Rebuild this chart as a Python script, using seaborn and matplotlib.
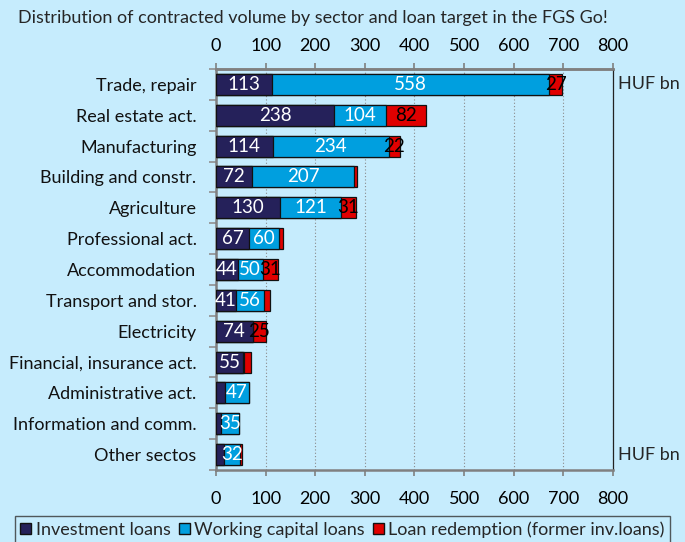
import numpy as np
import pandas as pd
import matplotlib
matplotlib.use("Agg")
import matplotlib.pyplot as plt
import seaborn as sns
from matplotlib.patches import Patch

sectors = ["Trade, repair", "Real estate act.", "Manufacturing", "Building and constr.",
           "Agriculture", "Professional act.", "Accommodation", "Transport and stor.",
           "Electricity", "Financial, insurance act.", "Administrative act.",
           "Information and comm.", "Other sectos"]
investment = [113, 238, 114, 72, 130, 67, 44, 41, 74, 55, 19, 11, 17]
working_cap = [558, 104, 234, 207, 121, 60, 50, 56, 1, 2, 47, 35, 32]
redemption = [27, 82, 22, 6, 31, 9, 31, 12, 25, 14, 1, 1, 4]
x_ticks = [0, 100, 200, 300, 400, 500, 600, 700, 800]

bg = "#C6ECFD"
navy = "#25215A"
blue = "#009FDF"
red = "#E00000"

sns.set_theme(style="white")
plt.rcParams["font.family"] = ["Lato", "DejaVu Sans"]

df = pd.DataFrame({"sector": sectors, "inv": investment, "wc": working_cap, "red": redemption})
df["c1"] = df["inv"]
df["c2"] = df["inv"] + df["wc"]
df["c3"] = df["c2"] + df["red"]

fig = plt.figure(figsize=(6.85, 5.42), dpi=100, facecolor=bg)
ax = fig.add_axes([0.3153, 0.1328, 0.5796, 0.7399])
ax.set_facecolor(bg)

# stacked bars by overplotting cumulative totals
for col, c in [("c3", red), ("c2", blue), ("c1", navy)]:
    sns.barplot(data=df, x=col, y="sector", color=c, width=0.68, orient="h",
                edgecolor="#111111", linewidth=0.9, saturation=1, ax=ax, zorder=3)

# segment labels
for i, row in df.iterrows():
    segs = [(0, row["inv"], "white"), (row["c1"], row["wc"], "white"), (row["c2"], row["red"], "black")]
    for start, val, tc in segs:
        if val >= 20:
            ax.text(start + val / 2, i, str(val), ha="center", va="center",
                    color=tc, fontsize=13.5, zorder=5)

ax.set_xlim(0, 800)
ax.set_ylim(12.5, -0.5)
ax.set_xticks(x_ticks)
ax.set_xlabel("")
ax.set_ylabel("")
ax.grid(axis="x", color="#8a8a8a", linestyle=(0, (1, 2)), linewidth=0.8, zorder=0)
ax.set_axisbelow(True)

ax.tick_params(axis="x", top=False, labeltop=False, bottom=True, labelbottom=True,
               length=4, width=1.2, color="#808080", pad=11, labelsize=13, labelcolor="black")
ax.tick_params(axis="y", which="major", length=0, pad=14, labelsize=13, labelcolor="#111111")
ax.set_yticks(np.arange(-0.5, 13, 1), minor=True)
ax.tick_params(axis="y", which="minor", left=True, length=5, width=1.2, color="#909090")

# top axis with the same scale
top = ax.secondary_xaxis("top")
top.set_xticks(x_ticks)
top.tick_params(length=4, width=1.2, color="#808080", pad=7, labelsize=13, labelcolor="black")
top.spines["top"].set_color("#808080")
top.spines["top"].set_linewidth(1.8)

for s in ["top", "bottom", "left"]:
    ax.spines[s].set_color("#808080")
    ax.spines[s].set_linewidth(1.8)
ax.spines["right"].set_color("#222222")
ax.spines["right"].set_linewidth(0.9)

ax.text(1.012, 0, "HUF bn", transform=ax.get_yaxis_transform(), ha="left", va="center", fontsize=13)
ax.text(1.012, 12, "HUF bn", transform=ax.get_yaxis_transform(), ha="left", va="center", fontsize=13)

fig.text(0.026, 0.966, "Distribution of contracted volume by sector and loan target in the FGS Go!",
         ha="left", va="center", fontsize=13)

handles = [Patch(facecolor=navy, edgecolor="#111111", label="Investment loans"),
           Patch(facecolor=blue, edgecolor="#111111", label="Working capital loans"),
           Patch(facecolor=red, edgecolor="#111111", label="Loan redemption (former inv.loans)")]
leg = fig.legend(handles=handles, loc="lower center", bbox_to_anchor=(0.5, -0.002), ncol=3,
                 fontsize=13, frameon=True, fancybox=False, edgecolor="#333333",
                 facecolor=bg, handlelength=0.6, handleheight=0.6, handletextpad=0.25,
                 columnspacing=0.45, borderpad=0.3, borderaxespad=0)
leg.get_frame().set_linewidth(1.0)

fig.savefig("out.png", dpi=100, facecolor=bg)
